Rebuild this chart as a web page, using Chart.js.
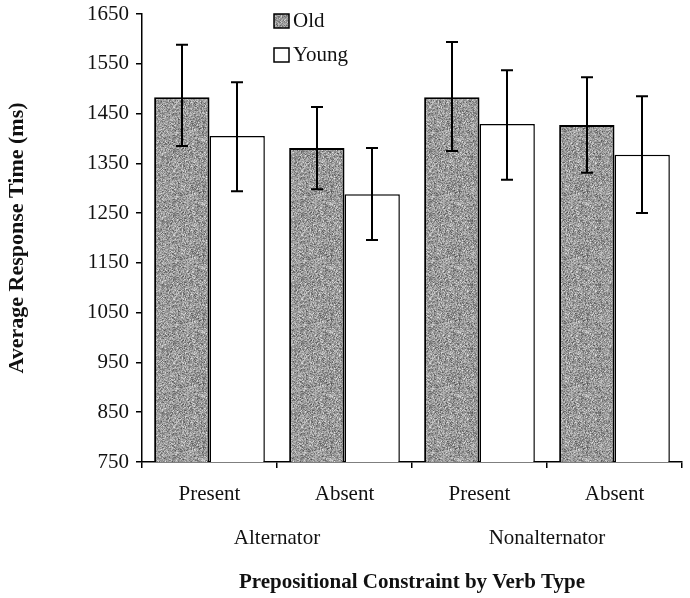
<!DOCTYPE html>
<html>
<head>
<meta charset="utf-8">
<script src="https://cdn.jsdelivr.net/npm/chart.js@4/dist/chart.umd.min.js"></script>
<style>
  html, body { margin: 0; padding: 0; background: #fff; }
  #wrap { width: 690px; height: 598px; }
</style>
</head>
<body>
<div id="wrap"><canvas id="chart" width="690" height="598"></canvas></div>
<script>
// values
const categories = ['Present', 'Absent', 'Present', 'Absent'];
const groups = ['Alternator', 'Nonalternator'];
const seriesNames = ['Old', 'Young'];
const oldMeans = [1483, 1381, 1483, 1427];
const youngMeans = [1405, 1288, 1429, 1367];
const oldErrHigh = [1588, 1463, 1594, 1523];
const oldErrLow = [1385, 1298, 1375, 1331];
const youngErrHigh = [1513, 1381, 1537, 1485];
const youngErrLow = [1294, 1196, 1317, 1250];
const yMin = 750, yMax = 1650, yStep = 100;

const FONT = '"Liberation Serif", "Times New Roman", serif';

// speckled gray fill like the scanned print
function makeStipple() {
    const c = document.createElement('canvas');
    c.width = 64; c.height = 64;
    const g = c.getContext('2d');
    const img = g.createImageData(64, 64);
    let s = 98765;
    const next = () => { s = (s * 1103515245 + 12345) & 0x7fffffff; return s / 0x7fffffff; };
    for (let i = 0; i < 64 * 64; i++) {
        const v = Math.floor(70 + (next() + next() + next()) / 3 * 170);
        img.data[i * 4] = v;
        img.data[i * 4 + 1] = v;
        img.data[i * 4 + 2] = v;
        img.data[i * 4 + 3] = 255;
    }
    g.putImageData(img, 0, 0);
    return c;
}

const ctx = document.getElementById('chart').getContext('2d');
const stipple = ctx.createPattern(makeStipple(), 'repeat');

const errorBars = {
    id: 'errorBars',
    afterDatasetsDraw(chart) {
        const c = chart.ctx;
        const y = chart.scales.y;
        const errs = [[oldErrLow, oldErrHigh], [youngErrLow, youngErrHigh]];
        c.save();
        c.strokeStyle = '#000';
        c.lineWidth = 2;
        chart.data.datasets.forEach((ds, di) => {
            chart.getDatasetMeta(di).data.forEach((bar, i) => {
                const x = Math.round(bar.x);
                const top = y.getPixelForValue(errs[di][1][i]);
                const bot = y.getPixelForValue(errs[di][0][i]);
                c.beginPath();
                c.moveTo(x, top); c.lineTo(x, bot);
                c.moveTo(x - 6, top); c.lineTo(x + 6, top);
                c.moveTo(x - 6, bot); c.lineTo(x + 6, bot);
                c.stroke();
            });
        });
        c.restore();
    }
};

const extraText = {
    id: 'extraText',
    afterDraw(chart) {
        const c = chart.ctx;
        const x = chart.scales.x;
        c.save();
        c.fillStyle = '#111';
        c.font = '21px ' + FONT;
        c.textAlign = 'center';
        c.textBaseline = 'middle';
        groups.forEach((g, gi) => {
            const cx = (x.getPixelForValue(gi * 2) + x.getPixelForValue(gi * 2 + 1)) / 2;
            c.fillText(g, cx, 538);
        });
        // legend
        const fills = [stipple, '#fff'];
        c.textAlign = 'left';
        seriesNames.forEach((n, i) => {
            const by = 14 + i * 34;
            c.fillStyle = fills[i];
            c.fillRect(274, by, 15, 14);
            c.strokeStyle = '#000';
            c.lineWidth = 1.5;
            c.strokeRect(274, by, 15, 14);
            c.fillStyle = '#111';
            c.fillText(n, 293, by + 7);
        });
        c.restore();
    }
};

new Chart(ctx, {
    type: 'bar',
    data: {
        labels: categories,
        datasets: [{
            label: seriesNames[0],
            data: oldMeans,
            backgroundColor: stipple,
            borderColor: '#000',
            borderWidth: 2
        }, {
            label: seriesNames[1],
            data: youngMeans,
            backgroundColor: '#fff',
            borderColor: '#000',
            borderWidth: 1.5
        }]
    },
    options: {
        responsive: false,
        animation: false,
        layout: { padding: { top: 14, right: 8, left: 0, bottom: 0 } },
        datasets: { bar: { categoryPercentage: 0.82, barPercentage: 1.0 } },
        plugins: {
            legend: { display: false },
            tooltip: { enabled: false }
        },
        scales: {
            y: {
                min: yMin,
                max: yMax,
                afterFit(scale) {
                    scale.width = 142;
                    scale.paddingTop = 0;
                    scale.paddingBottom = 0;
                },
                ticks: {
                    stepSize: yStep,
                    color: '#111',
                    padding: 7,
                    font: { family: FONT, size: 21 },
                    callback: v => String(v)
                },
                grid: { drawOnChartArea: false, tickLength: 6, color: '#000', lineWidth: 1.5 },
                border: { color: '#000', width: 1.5 },
                title: {
                    display: true,
                    text: 'Average Response Time (ms)',
                    color: '#111',
                    padding: { top: 4, bottom: 0 },
                    font: { family: FONT, size: 22, weight: 'bold' }
                }
            },
            x: {
                afterFit(scale) { scale.height = 136; },
                ticks: {
                    color: '#111',
                    padding: 14,
                    font: { family: FONT, size: 21 }
                },
                grid: { drawOnChartArea: false, offset: true, tickLength: 6, color: '#000', lineWidth: 1.5 },
                border: { color: '#000', width: 1.5 },
                title: {
                    display: true,
                    text: 'Prepositional Constraint by Verb Type',
                    color: '#111',
                    padding: { top: 0, bottom: 3 },
                    font: { family: FONT, size: 21, weight: 'bold' }
                }
            }
        }
    },
    plugins: [errorBars, extraText]
});
</script>
</body>
</html>
